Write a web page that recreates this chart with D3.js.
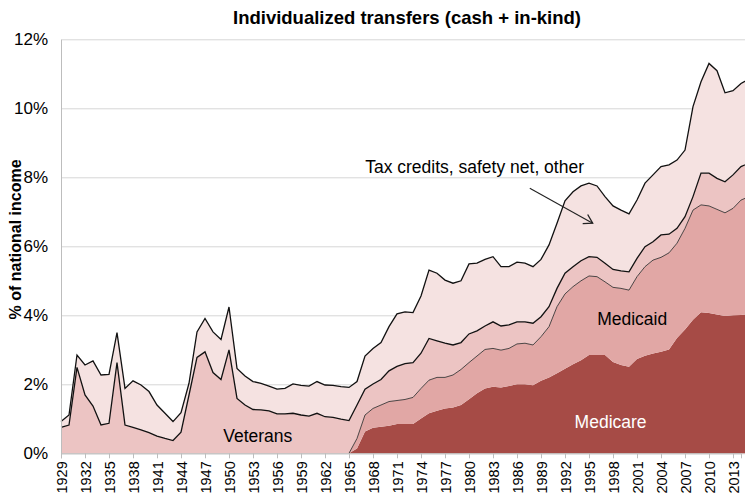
<!DOCTYPE html>
<html>
<head>
<meta charset="utf-8">
<script src="https://cdn.jsdelivr.net/npm/d3@7"></script>
<style>
  body { margin: 0; background: #fff; }
  svg { display: block; font-family: "Liberation Sans", Arial, Helvetica, sans-serif; }
</style>
</head>
<body>
<svg id="chart" width="745" height="495"></svg>
<script>
// years shown (last one runs past the right edge, like the original)
var years = d3.range(1929, 2016);
var xTicks = d3.range(1929, 2014, 3);
var yTicks = [0, 2, 4, 6, 8, 10, 12];

// % of national income
var medicare = [
  0, 0, 0, 0, 0, 0, 0, 0, 0, 0, 0, 0, 0, 0, 0, 0, 0, 0, 0, 0,
  0, 0, 0, 0, 0, 0, 0, 0, 0, 0, 0, 0, 0, 0, 0, 0, 0,
  0.14, 0.63, 0.74, 0.77, 0.80, 0.85, 0.85, 0.85, 1.01, 1.16,
  1.23, 1.30, 1.33, 1.40, 1.57, 1.74, 1.88, 1.93, 1.91, 1.95,
  2.00, 2.00, 1.97, 2.10, 2.20, 2.32, 2.45, 2.58, 2.70, 2.85,
  2.85, 2.85, 2.65, 2.56, 2.51, 2.73, 2.83, 2.89, 2.94, 3.01,
  3.34, 3.59, 3.87, 4.09, 4.07, 4.02, 3.98, 4.00, 4.01, 4.03
];
var medicaid = [
  0, 0, 0, 0, 0, 0, 0, 0, 0, 0, 0, 0, 0, 0, 0, 0, 0, 0, 0, 0,
  0, 0, 0, 0, 0, 0, 0, 0, 0, 0, 0, 0, 0, 0, 0, 0, 0,
  0.29, 0.48, 0.56, 0.63, 0.70, 0.68, 0.71, 0.77, 0.87, 0.96,
  0.97, 0.90, 0.94, 1.03, 1.06, 1.08, 1.13, 1.11, 1.08, 1.09,
  1.17, 1.19, 1.17, 1.28, 1.47, 1.93, 2.17, 2.25, 2.30, 2.29,
  2.27, 2.12, 2.16, 2.22, 2.22, 2.39, 2.58, 2.71, 2.74, 2.80,
  2.75, 2.93, 3.18, 3.11, 3.10, 3.05, 2.99, 3.10, 3.33, 3.41
];
var veterans = [
  0.75, 0.82, 2.49, 1.69, 1.37, 0.82, 0.87, 2.63, 0.82, 0.75,
  0.68, 0.60, 0.50, 0.43, 0.37, 0.61, 1.69, 2.78, 2.94, 2.34,
  2.14, 3.00, 1.59, 1.40, 1.27, 1.26, 1.23, 1.14, 1.14, 1.16,
  1.11, 1.08, 1.16, 1.06, 1.04, 0.99, 0.95,
  0.97, 0.75, 0.71, 0.74, 0.89, 0.99, 1.04, 1.01, 1.02, 1.21,
  1.06, 0.99, 0.87, 0.78, 0.83, 0.73, 0.68, 0.77, 0.70, 0.68,
  0.64, 0.62, 0.63, 0.58, 0.58, 0.53, 0.60, 0.58, 0.58, 0.56,
  0.56, 0.54, 0.52, 0.51, 0.53, 0.53, 0.58, 0.53, 0.65, 0.54,
  0.43, 0.34, 0.39, 0.92, 0.95, 0.90, 0.90, 0.97, 0.97, 0.97
];
var other = [
  0.17, 0.29, 0.36, 0.87, 1.31, 1.45, 1.42, 0.87, 1.06, 1.35,
  1.30, 1.19, 0.90, 0.73, 0.55, 0.57, 0.34, 0.74, 0.97, 1.18,
  1.16, 1.24, 0.87, 0.84, 0.81, 0.77, 0.72, 0.72, 0.74, 0.85,
  0.86, 0.87, 0.92, 0.92, 0.93, 0.94, 0.96,
  0.68, 0.96, 1.03, 1.07, 1.28, 1.52, 1.50, 1.45, 1.66, 1.98,
  1.96, 1.83, 1.79, 1.79, 2.03, 1.96, 1.93, 1.89, 1.72, 1.69,
  1.73, 1.70, 1.64, 1.66, 1.79, 1.89, 2.10, 2.17, 2.17, 2.13,
  2.07, 1.93, 1.84, 1.76, 1.68, 1.69, 1.84, 1.94, 1.98, 2.01,
  1.98, 1.93, 2.61, 2.65, 3.18, 3.12, 2.58, 2.44, 2.41, 2.44
];

var keys = ["medicare", "medicaid", "veterans", "other"];
var colors = { medicare: "#a64b46", medicaid: "#e1a7a5", veterans: "#ecc4c3", other: "#f5e2e1" };

var rows = years.map(function (yr, i) {
  return { year: yr, medicare: medicare[i], medicaid: medicaid[i], veterans: veterans[i], other: other[i] };
});

var svg = d3.select("#chart");
var plotL = 61, plotT = 39.3, plotB = 453.3, plotR = 745;

var x = d3.scaleLinear().domain([1929, 2014]).range([plotL, plotL + 85 * 8]);
var y = d3.scaleLinear().domain([0, 12]).range([plotB, plotT]);

// grid
svg.append("g")
  .attr("transform", "translate(" + plotL + ",0)")
  .call(d3.axisLeft(y).tickValues(yTicks).tickSize(-(plotR - plotL)).tickFormat(""))
  .call(function (g) {
    g.select(".domain").remove();
    g.selectAll("line").attr("stroke", "#d6d6d6").attr("stroke-width", 1);
  });

var stacked = d3.stack().keys(keys)(rows);

var area = d3.area()
  .x(function (d) { return x(d.data.year); })
  .y0(function (d) { return y(d[0]); })
  .y1(function (d) { return y(d[1]); });

svg.append("g").selectAll("path")
  .data(stacked)
  .enter().append("path")
  .attr("d", area)
  .attr("fill", function (d) { return colors[d.key]; });

var line = d3.line()
  .x(function (d) { return x(d.data.year); })
  .y(function (d) { return y(d[1]); });

// outline on top of medicaid only once it exists
svg.append("path")
  .attr("d", line(stacked[1].filter(function (d) { return d.data.year >= 1965; })))
  .attr("fill", "none").attr("stroke", "#222").attr("stroke-width", 0.8);
svg.append("path")
  .attr("d", line(stacked[2]))
  .attr("fill", "none").attr("stroke", "#111").attr("stroke-width", 1.3);
svg.append("path")
  .attr("d", line(stacked[3]))
  .attr("fill", "none").attr("stroke", "#111").attr("stroke-width", 1.3);

// axes
var yAxis = svg.append("g")
  .attr("transform", "translate(" + plotL + ",0)")
  .call(d3.axisLeft(y).tickValues(yTicks).tickSize(0).tickPadding(13)
    .tickFormat(function (d) { return d + "%"; }));
yAxis.select(".domain").attr("stroke", "#bdbdbd");
yAxis.selectAll("text").attr("font-size", 17).attr("fill", "#000")
  .attr("font-family", "Liberation Sans, Arial, sans-serif");

var xAxis = svg.append("g")
  .attr("transform", "translate(0," + plotB + ")")
  .call(d3.axisBottom(x).tickValues(xTicks).tickSize(5).tickFormat(d3.format("d")));
xAxis.select(".domain").attr("stroke", "#bdbdbd");
xAxis.selectAll("line").attr("stroke", "#bdbdbd");
xAxis.selectAll("text")
  .attr("font-size", 14.5).attr("fill", "#000")
  .attr("font-family", "Liberation Sans, Arial, sans-serif")
  .attr("text-anchor", "end")
  .attr("transform", "rotate(-90)")
  .attr("x", -8).attr("y", 0.5).attr("dy", "0.36em");

// title + axis label
svg.append("text")
  .attr("x", 407).attr("y", 24)
  .attr("text-anchor", "middle")
  .attr("font-size", 18.5).attr("font-weight", "bold")
  .text("Individualized transfers (cash + in-kind)");

svg.append("text")
  .attr("transform", "translate(21," + y(6.2) + ") rotate(-90)")
  .attr("text-anchor", "middle")
  .attr("font-size", 16).attr("font-weight", "bold")
  .text("% of national income");

// series labels
svg.append("text")
  .attr("x", x(1953.6)).attr("y", y(0.34))
  .attr("text-anchor", "middle").attr("font-size", 17.5)
  .text("Veterans");
svg.append("text")
  .attr("x", x(2000.4)).attr("y", y(3.71))
  .attr("text-anchor", "middle").attr("font-size", 17.5)
  .text("Medicaid");
svg.append("text")
  .attr("x", x(1997.7)).attr("y", y(0.72))
  .attr("text-anchor", "middle").attr("font-size", 17.5).attr("fill", "#fff")
  .text("Medicare");
svg.append("text")
  .attr("x", x(1980.7)).attr("y", y(8.12))
  .attr("text-anchor", "middle").attr("font-size", 17.5)
  .text("Tax credits, safety net, other");

// arrow to the top band
var a0 = [x(1987.6), y(7.68)], a1 = [x(1995.46), y(6.67)];
svg.append("line")
  .attr("x1", a0[0]).attr("y1", a0[1]).attr("x2", a1[0]).attr("y2", a1[1])
  .attr("stroke", "#222").attr("stroke-width", 1.1);
var ang = Math.atan2(a1[1] - a0[1], a1[0] - a0[0]);
var head = [ang + 2.6, ang - 2.6].map(function (t) {
  return [a1[0] + 10 * Math.cos(t), a1[1] + 10 * Math.sin(t)];
});
svg.append("path")
  .attr("d", "M" + head[0] + "L" + a1 + "L" + head[1])
  .attr("fill", "none").attr("stroke", "#222").attr("stroke-width", 1.3);
</script>
</body>
</html>
